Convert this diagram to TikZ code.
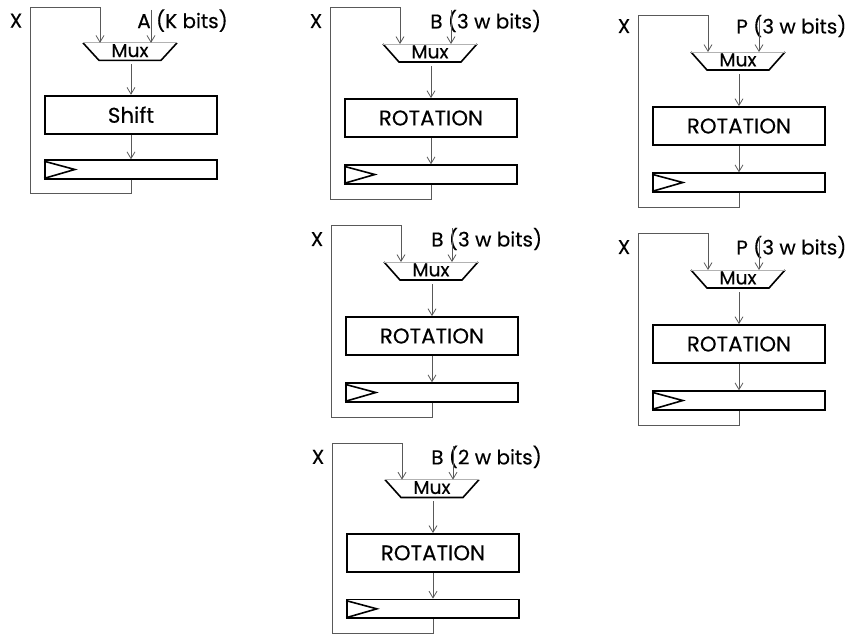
\documentclass[tikz,border=0pt]{standalone}
\usepackage{fontspec}
\setmainfont{Poppins}[FakeBold=0.3]
\usetikzlibrary{arrows.meta,calc}

\tikzset{
  lbl/.style={font=\fontsize{15}{17}\selectfont, inner sep=0pt},
  boxst/.style={draw=black, line width=1.3pt, minimum width=129pt, minimum height=28.5pt, inner sep=0pt, font=\fontsize{16}{18}\selectfont},
  regst/.style={draw=black, line width=1.3pt, minimum width=129pt, minimum height=14pt, inner sep=0pt},
  muxside/.style={draw=black, line width=1.2pt, line join=miter},
  muxtop/.style={draw=black!30, line width=0.6pt},
  muxtext/.style={font=\fontsize{14}{16}\selectfont, inner sep=0pt},
  wire/.style={draw=black!65, line width=0.6pt},
  arr/.style={wire, -{Straight Barb[length=5pt,width=6pt]}},
  trist/.style={draw=black, line width=1.2pt, line join=miter},
}

% #1 prefix, #2 L, #3 T, #4 yscale, #5 label x, #6 label, #7 box text, #8 label y
\newcommand\hwblk[8]{%
  \begin{scope}[shift={(#2,#3)}, yscale=#4]
    \coordinate (#1tl) at (0,0);
    \coordinate (#1lb) at (0,192);
    \node[lbl] (#1x) at (-14,#8) {X};
    \node[lbl, anchor=west] (#1lab) at (#5,#8) {#6};
    \coordinate (#1ins) at (121,3);
    \coordinate (#1mtl) at (53,37);
    \coordinate (#1mtr) at (147,37);
    \coordinate (#1mbr) at (131,55);
    \coordinate (#1mbl) at (69,55);
    \coordinate (#1xin) at (70,37);
    \coordinate (#1ain) at (121,37);
    \coordinate (#1mout) at (101,59);
    \draw[muxside] (#1mtl) -- (#1mbl) -- (#1mbr) -- (#1mtr);
    \draw[muxtop] (#1mtl) -- (#1mtr);
    \node[muxtext] (#1mux) at (100,45) {Mux};
    \node[boxst] (#1box) at (101,111) {#7};
    \node[regst] (#1reg) at (101,167.5) {};
    \draw[trist] ([yshift=-1.5pt]#1reg.north west) -- ([xshift=23pt]#1reg.west) -- ([yshift=1pt]#1reg.south west);
    \draw[arr] (#1mout) -- (#1box.north);
    \draw[arr] (#1box.south) -- (#1reg.north);
    \draw[arr] (#1reg.south) |- (#1lb) -- (#1tl) -| (#1xin);
    \draw[arr] (#1ins) -- (#1ain);
  \end{scope}%
}

\begin{document}
\begin{tikzpicture}[x=0.75pt, y=-0.75pt]
  \useasboundingbox (0,0) rectangle (847,637);
  \hwblk{a}{30}{7}{0.97}{107}{A (K bits)}{Shift}{14}
  \hwblk{b}{330}{7}{1.0}{100}{B (3 w bits)}{ROTATION}{14}
  \hwblk{c}{638}{15}{1.0}{98}{P (3 w bits)}{ROTATION}{11}
  \hwblk{d}{331}{225}{1.0}{100}{B (3 w bits)}{ROTATION}{14}
  \hwblk{e}{332}{443}{0.99}{99}{B (2 w bits)}{ROTATION}{14}
  \hwblk{f}{638}{233}{1.0}{98}{P (3 w bits)}{ROTATION}{14}
\end{tikzpicture}
\end{document}
